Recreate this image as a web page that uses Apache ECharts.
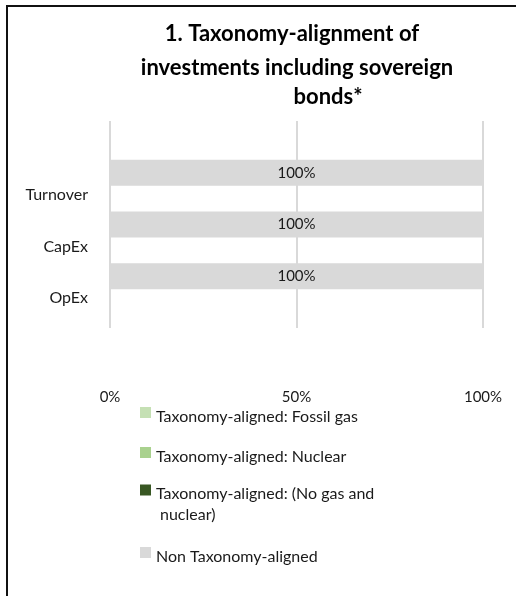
<!DOCTYPE html>
<html>
<head>
<meta charset="utf-8">
<script src="https://cdn.jsdelivr.net/npm/echarts@6/dist/echarts.min.js"></script>
<style>
html,body{margin:0;padding:0;background:#fff;}
#chart{width:516px;height:596px;position:absolute;left:0;top:0;}
#frame{position:absolute;left:6px;top:5px;width:510px;height:591px;border-top:2px solid #111;border-left:2px solid #111;pointer-events:none;}
</style>
</head>
<body>
<div id="chart"></div>
<div id="frame"></div>
<script>
const categories = ['Turnover', 'CapEx', 'OpEx'];
const seriesNames = [
  'Taxonomy-aligned: Fossil gas',
  'Taxonomy-aligned: Nuclear',
  'Taxonomy-aligned: (No gas and nuclear)',
  'Non Taxonomy-aligned'
];
const fossilGas = [0, 0, 0];
const nuclear = [0, 0, 0];
const noGasNuclear = [0, 0, 0];
const nonAligned = [100, 100, 100];
const xTicks = [0, 50, 100];
const colors = ['#C5E0B4', '#A9D18E', '#385723', '#D9D9D9'];
const titleLines = ['1. Taxonomy-alignment of', 'investments including sovereign', 'bonds*'];

const FONT = 'Lato, "Noto Sans", sans-serif';
const TXT = '#1a1a1a';
const values = [fossilGas, nuclear, noGasNuclear, nonAligned];

const chart = echarts.init(document.getElementById('chart'), null, {renderer: 'canvas'});

const titleX = [292, 297, 328];
const titleTop = [21, 55, 84];
const legendTops = [400.5, 440.5, 461, 540.5];

const legendRich = {
  a: {fontFamily: FONT, fontSize: 16, color: TXT, lineHeight: 16, padding: [8, 0, 0, 0]},
  p: {fontFamily: FONT, fontSize: 16, color: TXT, lineHeight: 29},
  b: {fontFamily: FONT, fontSize: 16, color: TXT, lineHeight: 21},
  c: {fontFamily: FONT, fontSize: 16, color: TXT, lineHeight: 21, padding: [0, 0, 0, 4]}
};

const option = {
  animation: false,
  backgroundColor: '#fff',
  title: titleLines.map((t, i) => ({
    text: t,
    left: titleX[i],
    top: titleTop[i],
    textAlign: 'center',
    padding: 0,
    textStyle: {fontFamily: FONT, fontWeight: 'bold', fontSize: 22, color: '#000', lineHeight: 26}
  })),
  legend: seriesNames.map((n, i) => ({
    data: [n],
    orient: 'vertical',
    left: 140,
    top: legendTops[i],
    padding: 0,
    itemWidth: 11,
    itemHeight: 11,
    icon: 'rect',
    selectedMode: false,
    formatter: name => {
      if (i === 2) {
        const cut = name.lastIndexOf(' ');
        return '{p| }\n{b|' + name.slice(0, cut) + '}\n{c|' + name.slice(cut + 1) + '}';
      }
      return '{a|' + name + '}';
    },
    textStyle: {fontFamily: FONT, fontSize: 16, color: TXT, rich: legendRich}
  })),
  grid: [
    {left: 110, right: 33, top: 121, height: 207, containLabel: false},
    {left: 110, right: 33, top: 147, height: 155, containLabel: false}
  ],
  xAxis: [
    {
      type: 'value', gridIndex: 0, min: 0, max: 100, interval: 50,
      axisLine: {show: false}, axisTick: {show: false},
      splitLine: {show: true, lineStyle: {color: '#D9D9D9', width: 2}},
      axisLabel: {
        margin: 62, fontFamily: FONT, fontSize: 15, color: TXT,
        formatter: v => xTicks.indexOf(v) >= 0 ? v + '%' : ''
      }
    },
    {
      type: 'value', gridIndex: 1, min: 0, max: 100, interval: 50, show: false
    }
  ],
  yAxis: [
    {type: 'category', gridIndex: 0, data: categories, show: false},
    {
      type: 'category', gridIndex: 1, data: categories, inverse: true,
      axisLine: {show: false}, axisTick: {show: false}, splitLine: {show: false},
      axisLabel: {margin: 22, fontFamily: FONT, fontSize: 16, color: TXT, verticalAlign: 'top', lineHeight: 44}
    }
  ],
  series: seriesNames.map((n, i) => ({
    name: n,
    type: 'bar',
    stack: 'total',
    xAxisIndex: 1,
    yAxisIndex: 1,
    barWidth: 26,
    data: values[i],
    itemStyle: {color: colors[i]},
    label: {
      show: i === 3,
      position: 'inside',
      formatter: '{c}%',
      fontFamily: FONT,
      fontSize: 15,
      color: TXT
    }
  }))
};
chart.setOption(option);
</script>
</body>
</html>
